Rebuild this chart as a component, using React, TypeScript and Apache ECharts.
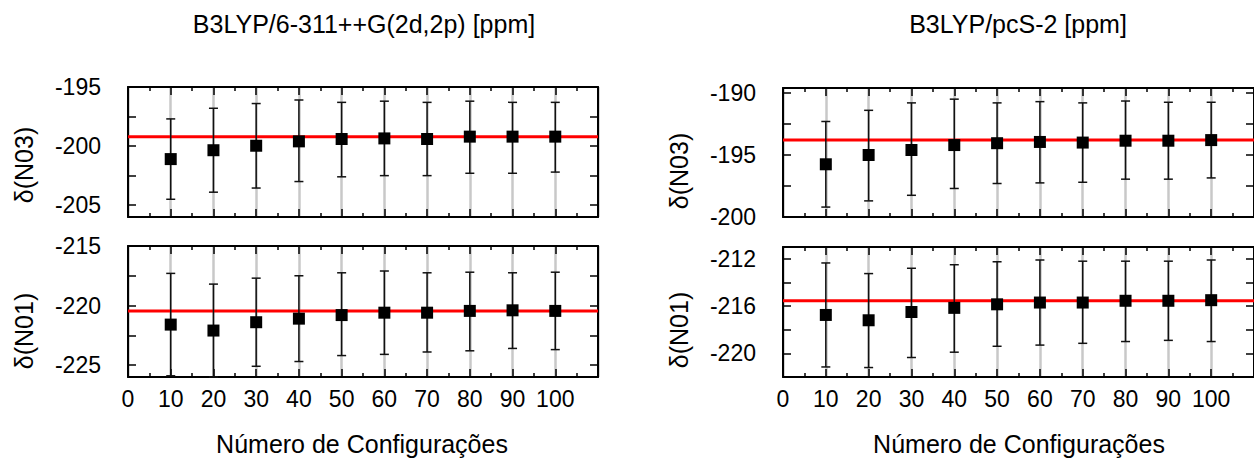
import React, { useEffect, useRef } from "react";
import * as echarts from "echarts";

// ---------- data ----------
const configs = [10, 20, 30, 40, 50, 60, 70, 80, 90, 100];

// B3LYP/6-311++G(2d,2p)  δ(N03)
const n03A_mean = [-201.1, -200.35, -199.97, -199.6, -199.4, -199.35, -199.4, -199.2, -199.2, -199.2];
const n03A_high = [-197.7, -196.8, -196.4, -196.1, -196.3, -196.2, -196.3, -196.2, -196.3, -196.3];
const n03A_low = [-204.5, -203.9, -203.55, -203.0, -202.6, -202.5, -202.5, -202.3, -202.3, -202.2];
const n03A_ref = -199.2;

// B3LYP/6-311++G(2d,2p)  δ(N01)
const n01A_mean = [-221.6, -222.1, -221.4, -221.1, -220.8, -220.6, -220.6, -220.45, -220.4, -220.45];
const n01A_high = [-217.3, -218.2, -217.7, -217.5, -217.25, -217.1, -217.25, -217.2, -217.25, -217.2];
const n01A_low = [-225.9, -226.0, -225.1, -224.7, -224.2, -224.1, -223.9, -223.8, -223.6, -223.7];
const n01A_ref = -220.45;

// B3LYP/pcS-2  δ(N03)
const n03B_mean = [-195.75, -195.0, -194.6, -194.2, -194.05, -193.95, -194.0, -193.85, -193.85, -193.8];
const n03B_high = [-192.3, -191.4, -190.8, -190.5, -190.8, -190.7, -190.8, -190.65, -190.75, -190.75];
const n03B_low = [-199.2, -198.7, -198.25, -197.7, -197.3, -197.25, -197.2, -196.95, -196.95, -196.85];
const n03B_ref = -193.8;

// B3LYP/pcS-2  δ(N01)
const n01B_mean = [-216.75, -217.2, -216.5, -216.15, -215.85, -215.7, -215.7, -215.55, -215.55, -215.5];
const n01B_high = [-212.35, -213.25, -212.8, -212.5, -212.25, -212.1, -212.2, -212.2, -212.2, -212.1];
const n01B_low = [-221.15, -221.2, -220.35, -219.9, -219.4, -219.3, -219.15, -219.0, -218.9, -219.0];
const n01B_ref = -215.55;

// axis ticks / labels
const xTickLabels = [0, 10, 20, 30, 40, 50, 60, 70, 80, 90, 100];
const yTicksN03A = [-205, -202.5, -200, -197.5, -195];
const yLabelsN03A = [-205, -200, -195];
const yTicksN01A = [-225, -222.5, -220, -217.5, -215];
const yLabelsN01A = [-225, -220, -215];
const yTicksN03B = [-200, -197.5, -195, -192.5, -190];
const yLabelsN03B = [-200, -195, -190];
const yTicksN01B = [-222, -220, -218, -216, -214, -212];
const yLabelsN01B = [-220, -216, -212];

const titleA = "B3LYP/6-311++G(2d,2p) [ppm]";
const titleB = "B3LYP/pcS-2 [ppm]";
const xName = "Número de Configurações";
const yNameN03 = "δ(N03)";
const yNameN01 = "δ(N01)";

const FONT = '"Liberation Sans", Arial, Helvetica, sans-serif';

export default function App() {
  const ref = useRef<HTMLDivElement>(null);

  useEffect(() => {
    document.body.style.margin = "0";
    if (!ref.current) return;
    const chart = echarts.init(ref.current, undefined, { renderer: "svg" });

    const panels = [
      { rect: { left: 128, top: 87, width: 470, height: 130 }, min: -206, max: -195, ticks: yTicksN03A, labels: yLabelsN03A, mean: n03A_mean, high: n03A_high, low: n03A_low, refv: n03A_ref, bottom: false },
      { rect: { left: 128, top: 246, width: 470, height: 131 }, min: -226, max: -215, ticks: yTicksN01A, labels: yLabelsN01A, mean: n01A_mean, high: n01A_high, low: n01A_low, refv: n01A_ref, bottom: true },
      { rect: { left: 783, top: 88, width: 473, height: 129 }, min: -200, max: -189.6, ticks: yTicksN03B, labels: yLabelsN03B, mean: n03B_mean, high: n03B_high, low: n03B_low, refv: n03B_ref, bottom: false },
      { rect: { left: 783, top: 247, width: 473, height: 130 }, min: -222, max: -211, ticks: yTicksN01B, labels: yLabelsN01B, mean: n01B_mean, high: n01B_high, low: n01B_low, refv: n01B_ref, bottom: true },
    ];

    const axisLine = { show: true, onZero: false, lineStyle: { color: "#000", width: 2 } };
    const tickStyle = { color: "#000", width: 1.5 };

    const grids: any[] = [];
    const xAxes: any[] = [];
    const yAxes: any[] = [];
    const series: any[] = [];

    panels.forEach((p, i) => {
      grids.push({ ...p.rect, containLabel: false });
      const xBase = {
        gridIndex: i,
        type: "value",
        min: 0,
        max: 110,
        interval: 10,
        axisLine,
        axisTick: { show: true, inside: true, length: 8, lineStyle: tickStyle },
        minorTick: { show: true, splitNumber: 2, length: 4, lineStyle: tickStyle },
      };
      xAxes.push({
        ...xBase,
        position: "bottom",
        axisLabel: {
          show: p.bottom,
          customValues: xTickLabels,
          margin: 10,
          fontSize: 23,
          color: "#000",
          fontFamily: FONT,
        },
        splitLine: { show: true, lineStyle: { color: "#c8c8c8", width: 2.5 } },
      });
      xAxes.push({
        ...xBase,
        position: "top",
        axisLabel: { show: false },
        splitLine: { show: false },
      });
      const yBase = {
        gridIndex: i,
        type: "value",
        min: p.min,
        max: p.max,
        axisLine,
        axisTick: { show: true, inside: true, length: 8, lineStyle: tickStyle, customValues: p.ticks },
        splitLine: { show: false },
      };
      yAxes.push({
        ...yBase,
        position: "left",
        axisLabel: {
          show: true,
          customValues: p.labels,
          margin: 27,
          fontSize: 23,
          color: "#000",
          fontFamily: FONT,
          padding: [0, 0, 6, 0],
        },
      });
      yAxes.push({
        ...yBase,
        position: "right",
        axisLabel: { show: false },
      });

      series.push({
        type: "line",
        xAxisIndex: i * 2,
        yAxisIndex: i * 2,
        data: [[0, p.refv], [110, p.refv]],
        showSymbol: false,
        symbol: "none",
        lineStyle: { color: "#ff0000", width: 3, opacity: 1 },
        z: 2,
        silent: true,
      });
      series.push({
        type: "custom",
        xAxisIndex: i * 2,
        yAxisIndex: i * 2,
        data: configs.map((c, k) => [c, p.low[k], p.high[k]]),
        encode: { x: 0, y: [1, 2] },
        z: 3,
        silent: true,
        renderItem: (params: any, api: any) => {
          const x = api.value(0);
          const lo = api.coord([x, api.value(1)]);
          const hi = api.coord([x, api.value(2)]);
          const w = 4.5;
          const style = { stroke: "#111", lineWidth: 1.5 };
          return {
            type: "group",
            children: [
              { type: "line", shape: { x1: lo[0], y1: lo[1], x2: hi[0], y2: hi[1] }, style },
              { type: "line", shape: { x1: lo[0] - w, y1: lo[1], x2: lo[0] + w, y2: lo[1] }, style },
              { type: "line", shape: { x1: hi[0] - w, y1: hi[1], x2: hi[0] + w, y2: hi[1] }, style },
            ],
          };
        },
      });
      series.push({
        type: "scatter",
        xAxisIndex: i * 2,
        yAxisIndex: i * 2,
        data: configs.map((c, k) => [c, p.mean[k]]),
        symbol: "rect",
        symbolSize: 12,
        itemStyle: { color: "#000", opacity: 1 },
        z: 4,
        silent: true,
      });
    });

    const textStyle = (text: string, size: number) => ({
      text,
      fontSize: size,
      fontFamily: FONT,
      fill: "#000",
      align: "center",
      verticalAlign: "middle",
    });

    chart.setOption({
      animation: false,
      backgroundColor: "#fff",
      grid: grids,
      xAxis: xAxes,
      yAxis: yAxes,
      series,
      graphic: [
        { type: "text", x: 364, y: 24, style: textStyle(titleA, 25) },
        { type: "text", x: 1018, y: 24, style: textStyle(titleB, 25) },
        { type: "text", x: 362, y: 444, style: textStyle(xName, 25) },
        { type: "text", x: 1019, y: 444, style: textStyle(xName, 25) },
        { type: "text", x: 24, y: 165, rotation: Math.PI / 2, style: textStyle(yNameN03, 25) },
        { type: "text", x: 24, y: 331, rotation: Math.PI / 2, style: textStyle(yNameN01, 25) },
        { type: "text", x: 679, y: 171, rotation: Math.PI / 2, style: textStyle(yNameN03, 25) },
        { type: "text", x: 679, y: 330, rotation: Math.PI / 2, style: textStyle(yNameN01, 25) },
      ],
    });

    return () => chart.dispose();
  }, []);

  return <div ref={ref} style={{ width: 1254, height: 459 }} />;
}
